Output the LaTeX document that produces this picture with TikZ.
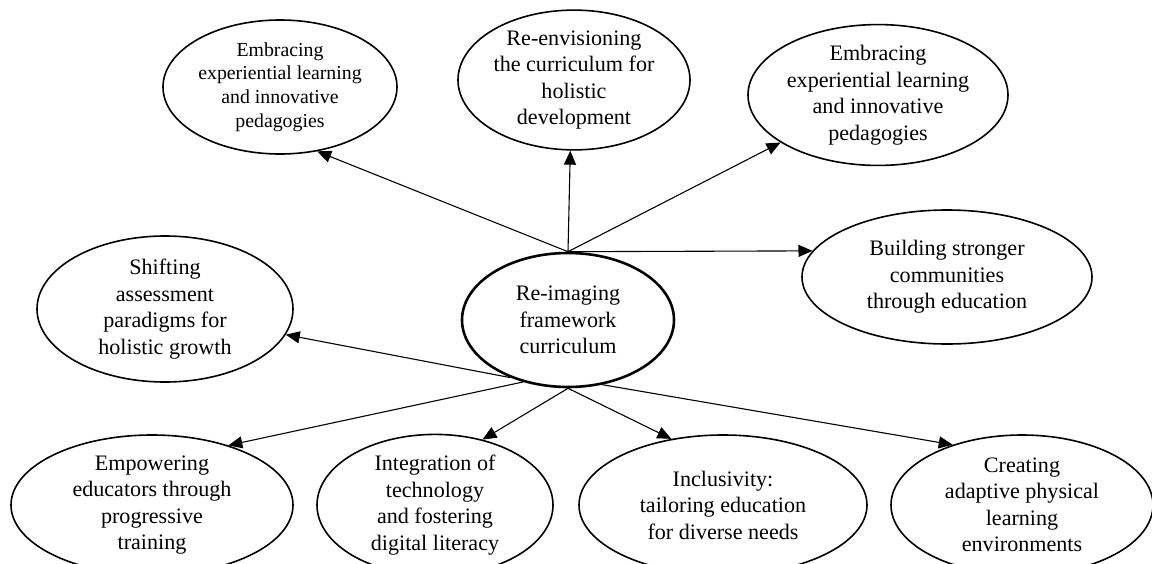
\documentclass[tikz,border=0pt]{standalone}
\usepackage{fontspec}
\setmainfont{Liberation Serif}
\usetikzlibrary{shapes.geometric,arrows.meta}
\begin{document}
\begin{tikzpicture}[x=1pt,y=-1pt,
  bubble/.style={ellipse, draw, line width=1.6pt, inner sep=0pt, align=center,
    font=\fontsize{22.1pt}{26.5pt}\selectfont},
  smallbubble/.style={bubble, font=\fontsize{19.8pt}{23.7pt}\selectfont},
  hub/.style={bubble, line width=2.6pt},
  link/.style={line width=1.1pt, -{Triangle[length=14pt,width=12pt]}}]
\useasboundingbox (0,0) rectangle (1152,563);
\clip (0,0) rectangle (1152,563);
% top row
\node[smallbubble, minimum width=234pt, minimum height=134pt] (tl) at (280,87)
  {Embracing\\experiential learning\\and innovative\\pedagogies};
\node[bubble, minimum width=232pt, minimum height=134pt] (tm) at (574,80)
  {Re-envisioning\\the curriculum for\\holistic\\development};
\node[bubble, minimum width=260pt, minimum height=134pt] (tr) at (878,95)
  {Embracing\\experiential learning\\and innovative\\pedagogies};
% middle row
\node[bubble, minimum width=256pt, minimum height=146pt] (sh) at (165,309)
  {Shifting\\assessment\\paradigms for\\holistic growth};
\node[hub, minimum width=212pt, minimum height=134pt] (c) at (568,320)
  {Re-imaging\\framework\\curriculum};
\node[bubble, minimum width=290pt, minimum height=134pt] (bs) at (947,277)
  {Building stronger\\communities\\through education};
% bottom row
\node[bubble, minimum width=282pt, minimum height=140pt] (em) at (152,505)
  {Empowering\\educators through\\progressive\\training};
\node[bubble, minimum width=236pt, minimum height=140pt] (in) at (435,505)
  {Integration of\\technology\\and fostering\\digital literacy};
\node[bubble, minimum width=288pt, minimum height=140pt] (ic) at (723,505)
  {Inclusivity:\\tailoring education\\for diverse needs};
\node[bubble, minimum width=262pt, minimum height=140pt] (cr) at (1022,505)
  {Creating\\adaptive physical\\learning\\environments};
% connectors
\draw[link] (c.north) -- (tl.300);
\draw[link] (c.north) -- (tm.267);
\draw[link] (c.north) -- (tr.206);
\draw[link] (c.north) -- (bs.169);
\draw[link] (c.225) -- (sh.348);
\draw[link] (c.234) -- (em.38);
\draw[link] (c.south) -- (in.54);
\draw[link] (c.south) -- (ic.128);
\draw[link] (c.298) -- (cr.139);
\end{tikzpicture}
\end{document}
